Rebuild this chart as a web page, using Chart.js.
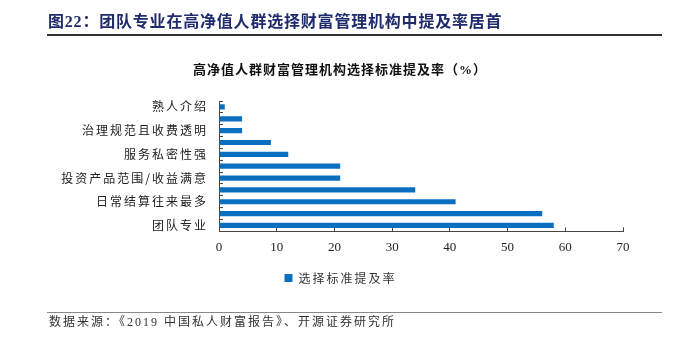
<!DOCTYPE html>
<html>
<head>
<meta charset="utf-8">
<script src="https://cdn.jsdelivr.net/npm/chart.js@4.4.1/dist/chart.umd.min.js"></script>
<style>
  html, body { margin: 0; padding: 0; background: #fff; }
  #page { position: relative; width: 688px; height: 347px; overflow: hidden; font-family: "Liberation Serif", "Noto Sans CJK SC", serif; }
  #heading { position: absolute; left: 48px; top: 13px; font-size: 16px; line-height: 18px; font-weight: bold; letter-spacing: 0.8px; color: #1f2b6c; white-space: nowrap; }
  #headRule { position: absolute; left: 47px; top: 34px; width: 615px; height: 1.5px; background: #333; }
  #chartTitle { position: absolute; left: 0; width: 680px; top: 62px; text-align: center; font-size: 13px; line-height: 16px; font-weight: bold; letter-spacing: 1px; color: #111; white-space: nowrap; }
  #footRule { position: absolute; left: 47px; top: 312px; width: 615px; height: 1px; background: #888; }
  #source { position: absolute; left: 49px; top: 314px; font-size: 12px; line-height: 16px; letter-spacing: 2px; color: #333; white-space: nowrap; }
  #chart { position: absolute; left: 0; top: 0; }
</style>
</head>
<body>
<div id="page">
  <canvas id="chart" width="688" height="347"></canvas>
  <div id="heading">图22：团队专业在高净值人群选择财富管理机构中提及率居首</div>
  <div id="headRule"></div>
  <div id="chartTitle">高净值人群财富管理机构选择标准提及率（%）</div>
  <div id="footRule"></div>
  <div id="source">数据来源：《2019 中国私人财富报告》、开源证券研究所</div>
</div>
<script>
// criteria, listed top to bottom; only every other one gets a tick label
const criteria = [
    "熟人介绍",
    "境外服务能力",
    "治理规范且收费透明",
    "网点分布广",
    "服务私密性强",
    "风险控制能力强",
    "投资产品范围/收益满意",
    "服务全面",
    "日常结算往来最多",
    "品牌与声誉",
    "团队专业"
];
const mentionRate = [1, 4, 4, 9, 12, 21, 21, 34, 41, 56, 58];
const seriesName = "选择标准提及率";
const rateTicks = [0, 10, 20, 30, 40, 50, 60, 70];

const axisColor = "#444";
const barColor = "#0b6fc0";

// wider glyph spacing for the category labels and legend
const labelSpacing = {
    id: "labelSpacing",
    beforeLayout(chart) { chart.ctx.letterSpacing = "2px"; },
    afterLayout(chart) { chart.ctx.letterSpacing = "0px"; },
    beforeDraw(chart) { chart.ctx.letterSpacing = "2px"; },
    beforeDatasetsDraw(chart) { chart.ctx.letterSpacing = "0px"; }
};

new Chart(document.getElementById("chart"), {
    type: "bar",
    data: {
        labels: criteria,
        datasets: [{
            label: seriesName,
            data: mentionRate,
            backgroundColor: barColor,
            borderWidth: 0,
            barPercentage: 0.44,
            categoryPercentage: 1
        }]
    },
    options: {
        indexAxis: "y",
        responsive: false,
        animation: false,
        // near-equal side padding keeps the legend centred on the page
        layout: { padding: { top: 101, right: 65, bottom: 53, left: 58 } },
        plugins: {
            title: { display: false },
            tooltip: { enabled: false },
            legend: {
                position: "bottom",
                labels: {
                    boxWidth: 8,
                    boxHeight: 8,
                    padding: 10,
                    color: "#333",
                    font: { family: "\"Noto Sans CJK SC\"", size: 12 }
                }
            }
        },
        scales: {
            y: {
                afterFit: scale => { scale.width = 161; },
                border: { color: axisColor, width: 1 },
                grid: { drawOnChartArea: false, offset: true, tickLength: -4, color: axisColor },
                ticks: {
                    autoSkip: false,
                    padding: 15,
                    color: "#222",
                    font: { family: "\"Noto Sans CJK SC\"", size: 12 },
                    callback: function (value, index) {
                        return index % 2 === 0 ? this.getLabelForValue(value) : "";
                    }
                }
            },
            x: {
                min: 0,
                max: 70,
                afterBuildTicks: scale => { scale.ticks = rateTicks.map(v => ({ value: v })); },
                afterFit: scale => { scale.height -= 5; },
                border: { color: axisColor, width: 1, z: 1 },
                grid: { drawOnChartArea: false, tickLength: -4, color: axisColor, z: 1 },
                ticks: {
                    z: 1,
                    padding: 12,
                    maxRotation: 0,
                    color: "#222",
                    font: { family: "\"Liberation Serif\"", size: 13 }
                }
            }
        }
    },
    plugins: [labelSpacing]
});
</script>
</body>
</html>
